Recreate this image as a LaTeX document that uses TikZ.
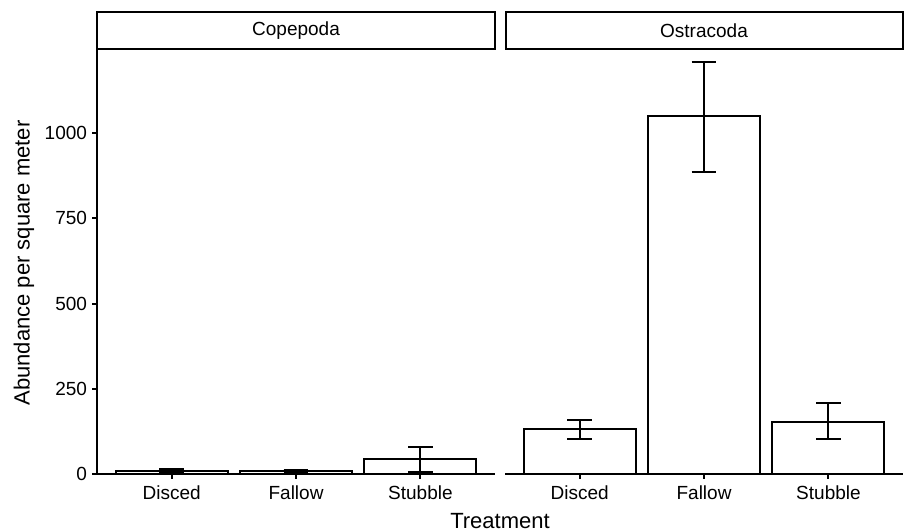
\documentclass[tikz,border=0pt]{standalone}
\usepackage{fontspec}
\setmainfont{Liberation Sans}
\usetikzlibrary{positioning}

\tikzset{
  bar/.style={draw=black, fill=white, line width=1pt},
  errbar/.style={draw=black, line width=1pt},
  axisline/.style={draw=black, line width=1pt},
  stripbox/.style={draw=black, fill=white, line width=1pt},
  ticklab/.style={font=\fontsize{9.5}{11}\selectfont, inner sep=2pt},
  titlelab/.style={font=\fontsize{11}{13}\selectfont},
}

\begin{document}
\begin{tikzpicture}[x=0.5pt,y=0.5pt]
\useasboundingbox (0,0) rectangle (904,531);

% facet strips
\draw[stripbox] (97,482) rectangle (495,519);
\node[ticklab] (stripA) at (296,500.5) {Copepoda};
\draw[stripbox] (506,482) rectangle (903,519);
\node[ticklab] (stripB) at (704,500.5) {Ostracoda};

% left panel: Copepoda
\begin{scope}[shift={(23.62pt,28.5pt)}, x=62.2pt, y=0.1705pt]
\draw[axisline] (0.4,1246) -- (0.4,0) -- (3.6,0);
\foreach \v in {0,250,500,750,1000}
  \draw[axisline] (0.4,\v) -- ++(-2.5pt,0) node[ticklab, left] (ylab\v) {\v};
\foreach \c/\lab in {1/Disced,2/Fallow,3/Stubble}
  \draw[axisline] (\c,0) -- ++(0,-2.5pt) node[ticklab, below, inner sep=3pt] (xlabA\c) {\lab};
% bars with error bars
\foreach \c/\m/\lo/\hi in {1/10/5/14, 2/9/5/11, 3/44/6/79} {
  \draw[bar] (\c-0.45,0) rectangle (\c+0.45,\m);
  \draw[errbar] (\c,\lo) -- (\c,\hi) (\c-0.1,\lo) -- (\c+0.1,\lo) (\c-0.1,\hi) -- (\c+0.1,\hi);
}
\end{scope}

% right panel: Ostracoda
\begin{scope}[shift={(227.62pt,28.5pt)}, x=62.2pt, y=0.1705pt]
\draw[axisline] (0.4,0) -- (3.6,0);
\foreach \c/\lab in {1/Disced,2/Fallow,3/Stubble}
  \draw[axisline] (\c,0) -- ++(0,-2.5pt) node[ticklab, below, inner sep=3pt] (xlabB\c) {\lab};
\foreach \c/\m/\lo/\hi in {1/132/103/158, 2/1049/886/1209, 3/153/103/208} {
  \draw[bar] (\c-0.45,0) rectangle (\c+0.45,\m);
  \draw[errbar] (\c,\lo) -- (\c,\hi) (\c-0.1,\lo) -- (\c+0.1,\lo) (\c-0.1,\hi) -- (\c+0.1,\hi);
}
\end{scope}

% axis titles
\node[titlelab, rotate=90] (ytitle) at (24,268) {Abundance per square meter};
\node[titlelab] (xtitle) at (500,10) {Treatment};

\end{tikzpicture}
\end{document}
